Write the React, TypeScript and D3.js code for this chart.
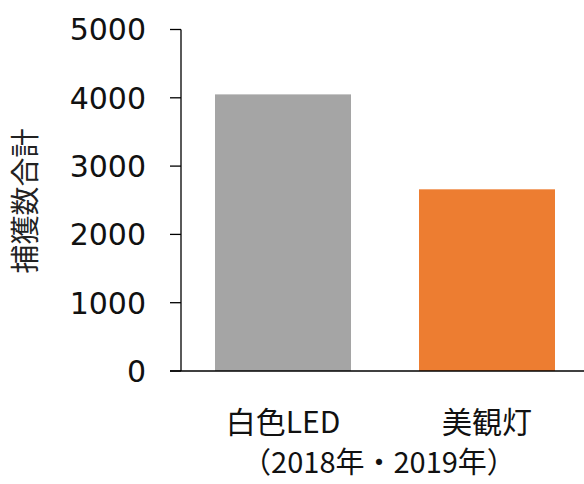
import React from "react";
import * as d3 from "d3";

const categories = ["白色LED", "美観灯"];
const values = [4050, 2660];
const barColors = ["#A5A5A5", "#ED7D31"];
const yTicks = [0, 1000, 2000, 3000, 4000, 5000];
const yTitle = "捕獲数合計";
const subTitle = "（2018年・2019年）";

const App: React.FC = () => {
  const width = 584;
  const height = 484;
  const margin = { top: 29.5, right: 0, bottom: 113, left: 181 };

  const x = d3
    .scaleBand<string>()
    .domain(categories)
    .range([margin.left, 589])
    .paddingInner(1 / 3)
    .paddingOuter(1 / 6);

  const y = d3
    .scaleLinear()
    .domain([0, 5000])
    .range([height - margin.bottom, margin.top]);

  const jp = "'Noto Sans CJK JP', 'Noto Sans', sans-serif";

  return (
    <svg
      width={width}
      height={height}
      style={{ position: "absolute", left: 0, top: 0, background: "#fff" }}
    >
      {categories.map((c, i) => (
        <rect
          key={c}
          x={x(c)}
          y={y(values[i])}
          width={x.bandwidth()}
          height={y(0) - y(values[i])}
          fill={barColors[i]}
        />
      ))}

      {/* y axis */}
      <line x1={margin.left} x2={margin.left} y1={y(5000)} y2={y(0)} stroke="#000" strokeWidth={1.3} />
      {yTicks.map((t) => (
        <g key={t}>
          <line x1={170} x2={margin.left} y1={y(t)} y2={y(t)} stroke="#000" strokeWidth={1.3} />
          <text
            x={146}
            y={y(t)}
            dy="0.36em"
            textAnchor="end"
            fontFamily="'DejaVu Sans', Verdana, sans-serif"
            fontSize={30}
            fill="#111"
          >
            {t}
          </text>
        </g>
      ))}
      {/* baseline */}
      <line x1={170} x2={width} y1={y(0)} y2={y(0)} stroke="#000" strokeWidth={1.3} />

      {/* category labels */}
      {categories.map((c) => (
        <text
          key={c}
          x={(x(c) ?? 0) + x.bandwidth() / 2}
          y={433}
          textAnchor="middle"
          fontFamily={jp}
          fontSize={30}
          fill="#111"
        >
          {c}
        </text>
      ))}
      <text x={379} y={473} textAnchor="middle" fontFamily={jp} fontSize={29} fill="#111">
        {subTitle}
      </text>

      <text
        transform={`translate(26,201) rotate(-90)`}
        textAnchor="middle"
        dy="0.36em"
        fontFamily={jp}
        fontSize={29}
        fill="#222"
      >
        {yTitle}
      </text>
    </svg>
  );
};

export default App;
